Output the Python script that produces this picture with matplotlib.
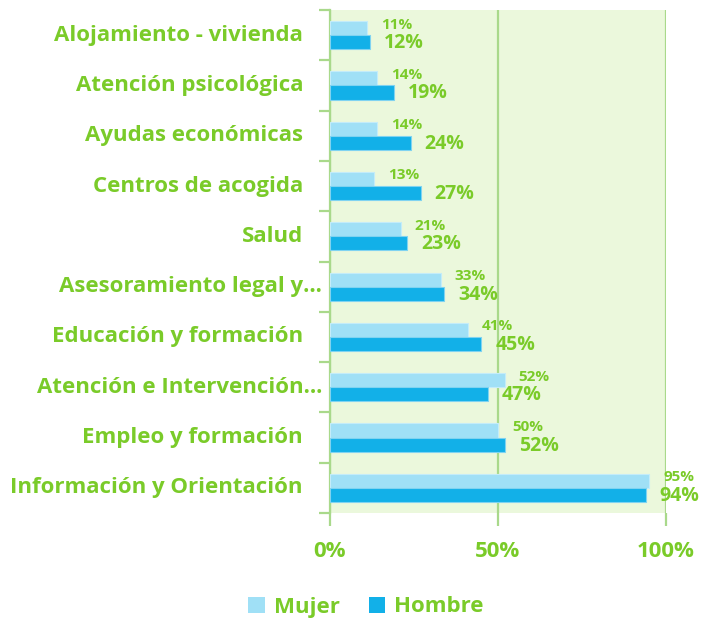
import numpy as np
import matplotlib.pyplot as plt
from matplotlib.patches import Patch
import matplotlib.transforms as mtransforms

categories = ["Alojamiento - vivienda", "Atención psicológica", "Ayudas económicas",
              "Centros de acogida", "Salud", "Asesoramiento legal y…",
              "Educación y formación", "Atención e Intervención…",
              "Empleo y formación", "Información y Orientación"]
mujer = [11, 14, 14, 13, 21, 33, 41, 52, 50, 95]
hombre = [12, 19, 24, 27, 23, 34, 45, 47, 52, 94]
truncated = ["Asesoramiento legal y…", "Atención e Intervención…"]

green = "#7ACB29"
grid_green = "#A9D98B"
bg = "#EBF8DC"
c_mujer = "#A0E0F6"
c_hombre = "#12B0E8"

plt.rcParams['font.family'] = ['Open Sans', 'DejaVu Sans']
plt.rcParams['font.weight'] = 'bold'

fig = plt.figure(figsize=(7.12, 6.21), dpi=100)
ax = fig.add_axes([330/712, 1-513/621, 336/712, 503/621])
ax.set_facecolor(bg)

n = len(categories)
y = np.arange(n)
h = 0.28
ax.barh(y - h/2, mujer, height=h, color=c_mujer, edgecolor="#C4ECF9", linewidth=0.8, zorder=3)
ax.barh(y + h/2, hombre, height=h, color=c_hombre, edgecolor="#7FD3F1", linewidth=0.8, zorder=3)

off = mtransforms.offset_copy(ax.transData, fig=fig, x=14, y=0, units='dots')
for i in range(n):
    ax.text(mujer[i], y[i] - h/2 - 0.07, f"{mujer[i]}%", transform=off, color=green,
            fontsize=11, fontweight='bold', va='center', ha='left', zorder=4, clip_on=False)
    ax.text(hombre[i], y[i] + h/2 + 0.02, f"{hombre[i]}%", transform=off, color=green,
            fontsize=14, fontweight='bold', va='center', ha='left', zorder=4, clip_on=False)

ax.set_xlim(0, 100)
ax.set_ylim(n - 0.5, -0.5)
ax.set_xticks([0, 50, 100])
ax.set_xticklabels(["0%", "50%", "100%"])
ax.xaxis.grid(True, color=grid_green, linewidth=1.6, zorder=1)
ax.tick_params(axis='x', colors=grid_green, labelcolor=green, labelsize=16,
               length=9, width=1.6, pad=11)

ax.set_yticks(np.arange(-0.5, n, 1.0))
ax.set_yticklabels([])
ax.tick_params(axis='y', colors=grid_green, length=8, width=1.6)

blend = mtransforms.blended_transform_factory(ax.transAxes, ax.transData)
for i, cat in enumerate(categories):
    dx = -8/336 if cat in truncated else -27/336
    ax.text(dx, y[i], cat, transform=blend, ha='right', va='center', color=green,
            fontsize=16, fontweight='bold')

for s in ["top", "right", "bottom"]:
    ax.spines[s].set_visible(False)
ax.spines["left"].set_color(grid_green)
ax.spines["left"].set_linewidth(1.6)

handles = [Patch(facecolor=c_mujer, label="Mujer"), Patch(facecolor=c_hombre, label="Hombre")]
fig.legend(handles=handles, loc='center', bbox_to_anchor=(366/712, 1-607/621), ncol=2,
           frameon=False, handlelength=0.75, handleheight=0.75, handletextpad=0.4,
           columnspacing=1.3, prop={'size': 16, 'weight': 'bold'}, labelcolor=green)

fig.savefig("out.png", dpi=100, facecolor="white")
